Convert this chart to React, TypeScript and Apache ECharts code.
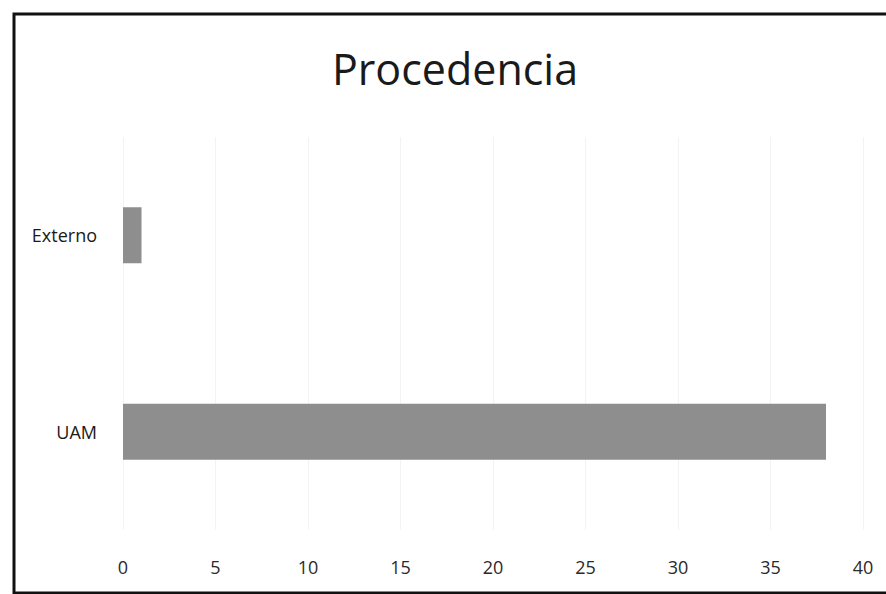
import React, { useEffect, useRef } from "react";
import * as echarts from "echarts";

const categories = ["Externo", "UAM"];
const values = [1, 38];
const xTicks = { min: 0, max: 40, interval: 5 };
const title = "Procedencia";

export default function App() {
  const ref = useRef<HTMLDivElement>(null);
  useEffect(() => {
    if (!ref.current) return;
    const chart = echarts.init(ref.current, null, { renderer: "svg" });
    chart.setOption({
      animation: false,
      backgroundColor: "#ffffff",
      title: {
        text: title,
        left: 450,
        textAlign: "center",
        top: 42,
        textStyle: { fontFamily: "Open Sans", fontSize: 43, fontWeight: "normal", color: "#1a1a1a" },
      },
      grid: { left: 123, right: 23, top: 137, bottom: 64 },
      xAxis: {
        type: "value",
        min: xTicks.min,
        max: xTicks.max,
        interval: xTicks.interval,
        axisLine: { show: false },
        axisTick: { show: false },
        splitLine: { show: true, lineStyle: { color: "#f3f3f3", width: 1 } },
        axisLabel: { margin: 28, fontFamily: "Open Sans", fontSize: 18, color: "#2a2a2a" },
      },
      yAxis: {
        type: "category",
        data: categories,
        inverse: true,
        axisLine: { show: false },
        axisTick: { show: false },
        axisLabel: { margin: 26, fontFamily: "Open Sans", fontSize: 18, color: "#1a1a1a" },
      },
      series: [
        {
          type: "bar",
          data: values,
          barWidth: 56,
          itemStyle: { color: "#8e8e8e" },
        },
      ],
      graphic: [
        {
          type: "rect",
          shape: { x: 14, y: 14, width: 900, height: 579 },
          style: { fill: "none", stroke: "#111111", lineWidth: 3 },
          silent: true,
        },
      ],
    });
    return () => chart.dispose();
  }, []);
  return (
    <div
      ref={ref}
      style={{ position: "fixed", left: 0, top: 0, width: 886, height: 594 }}
    />
  );
}
